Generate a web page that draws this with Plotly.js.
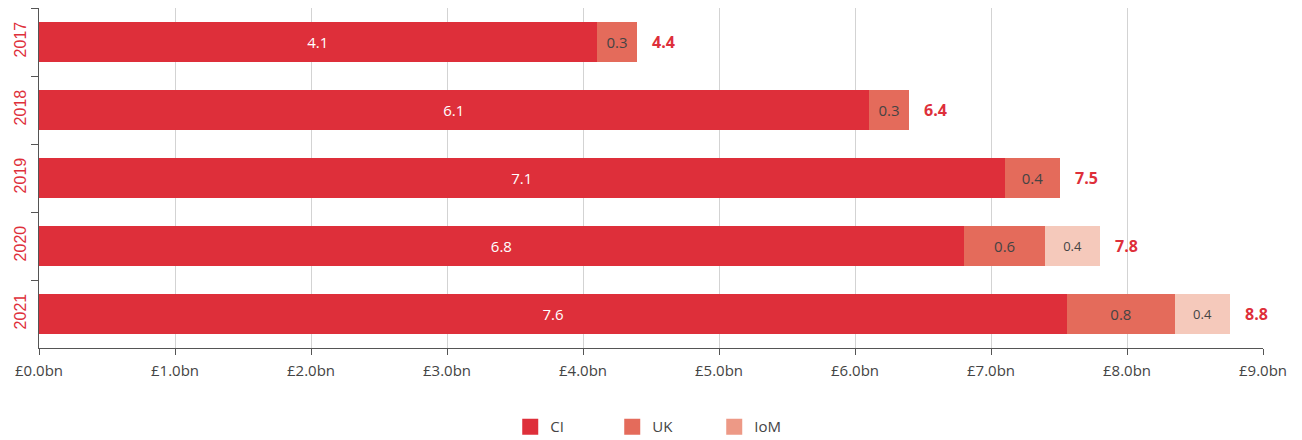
<!DOCTYPE html>
<html>
<head>
<meta charset="utf-8">
<script src="https://cdn.plot.ly/plotly-3.0.1.min.js"></script>
<style>html,body{margin:0;padding:0;background:#fff;}#chart{width:1302px;height:440px;}</style>
</head>
<body>
<div id="chart"></div>
<script>
const years = ['2017', '2018', '2019', '2020', '2021'];
const ciValues = [4.1, 6.1, 7.1, 6.8, 7.56];
const ukValues = [0.3, 0.3, 0.41, 0.6, 0.79];
const iomValues = [null, null, null, 0.4, 0.41];
const ciLabels = ['4.1', '6.1', '7.1', '6.8', '7.6'];
const ukLabels = ['0.3', '0.3', '0.4', '0.6', '0.8'];
const iomLabels = ['', '', '', '0.4', '0.4'];
const totalLabels = ['4.4', '6.4', '7.5', '7.8', '8.8'];
const seriesNames = ['CI', 'UK', 'IoM'];

const FONT = '"Open Sans", Lato, sans-serif';
const RED = '#de2f3a', UKC = '#e46b5b', IOMC = '#f5c9bb', IOML = '#ed9986';

const totals = years.map((y, i) => (ciValues[i] || 0) + (ukValues[i] || 0) + (iomValues[i] || 0));

function barTrace(vals, labels, color, txtColor, size) {
  return {
    type: 'bar', orientation: 'h', y: years, x: vals, text: labels,
    textposition: 'inside', insidetextanchor: 'middle', textangle: 0,
    constraintext: 'none',
    textfont: {family: FONT, size: size, color: txtColor},
    marker: {color: color, line: {width: 0}},
    hoverinfo: 'skip', showlegend: false
  };
}

const data = [
  barTrace(ciValues, ciLabels, RED, '#ffffff', 15),
  barTrace(ukValues, ukLabels, UKC, '#444444', 15),
  barTrace(iomValues, iomLabels, IOMC, '#444444', 13)
];
[RED, UKC, IOML].forEach((c, i) => {
  data.push({type: 'scatter', mode: 'markers', x: [null], y: [years[0]], name: seriesNames[i],
    marker: {symbol: 'square', size: 20, color: c}, showlegend: true, hoverinfo: 'skip'});
});

const annotations = years.map((y, i) => ({
  x: totals[i], y: i, xref: 'x', yref: 'y', text: '<b>' + totalLabels[i] + '</b>',
  showarrow: false, xanchor: 'left', yanchor: 'middle', xshift: 13,
  font: {family: FONT, size: 16, color: RED}
}));

const layout = {
  width: 1302, height: 440,
  margin: {l: 39, r: 39, t: 8, b: 92, autoexpand: false},
  barmode: 'stack', bargap: 0.4,
  paper_bgcolor: '#fff', plot_bgcolor: '#fff',
  font: {family: FONT, color: '#444'},
  xaxis: {
    range: [0, 9], autorange: false, dtick: 1, tick0: 0, tickformat: '.1f', tickprefix: '£', ticksuffix: 'bn',
    showgrid: true, gridcolor: '#d3d3d3', gridwidth: 1, zeroline: false,
    showline: true, linecolor: '#555', linewidth: 1,
    ticks: 'outside', ticklen: 6, tickcolor: '#555', ticklabelstandoff: 3,
    tickfont: {family: FONT, size: 15, color: '#444'}, fixedrange: true
  },
  yaxis: {
    type: 'category', categoryorder: 'array', categoryarray: years,
    range: [4.5, -0.5], autorange: false, tickson: 'boundaries',
    showline: true, linecolor: '#555', linewidth: 1,
    ticks: 'outside', ticklen: 7, tickcolor: '#555', tickangle: -90, ticklabelstandoff: 6,
    showgrid: false, zeroline: false,
    tickfont: {family: '"Liberation Sans", Arial, sans-serif', size: 16, color: RED}, fixedrange: true
  },
  showlegend: true,
  legend: {orientation: 'h', traceorder: 'normal', x: 0.51, xanchor: 'center', y: -0.232, yanchor: 'middle',
    font: {family: FONT, size: 15, color: '#444'}, entrywidth: 57, entrywidthmode: 'pixels',
    itemsizing: 'trace'},
  annotations: annotations
};

Plotly.newPlot('chart', data, layout, {displayModeBar: false, staticPlot: true});
</script>
</body>
</html>
